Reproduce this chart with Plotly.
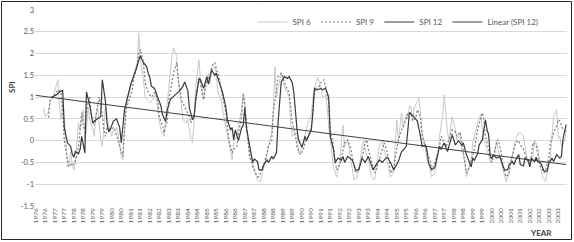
import plotly.graph_objects as go

# ---------------- data (month index 0 = Jan 1976) ----------------
YEARS = list(range(1976, 2004))
X_TICK_MONTHS = list(range(0, 336, 6))
X_TICK_LABELS = [str(y) for y in YEARS for _ in range(2)]
Y_TICKS = [-1.5, -1, -0.5, 0, 0.5, 1, 1.5, 2, 2.5, 3]
Y_TICK_LABELS = ["-1.5", "-1", "-0.5", "0", "0.5", "1", "1.5", "2", "2.5", "3"]

spi6_month = [5, 6, 8, 9, 11, 14, 15, 16, 17, 18, 19, 20, 21, 22, 23, 24, 25, 27, 28, 30,
              31, 32, 33, 34, 36, 37, 38, 39, 41, 42, 43, 44, 45, 46, 48, 49, 51, 52, 54, 55,
              56, 57, 59, 61, 62, 64, 65, 66, 68, 69, 72, 74, 76, 77, 79, 81, 82, 84, 86, 87,
              89, 90, 92, 93, 95, 96, 97, 98, 99, 100, 101, 103, 104, 105, 106, 107, 109, 110, 111, 113,
              114, 115, 117, 118, 120, 121, 123, 124, 125, 127, 128, 130, 131, 132, 133, 134, 135, 137, 138, 140,
              142, 143, 145, 146, 148, 149, 150, 151, 152, 153, 155, 157, 160, 161, 162, 164, 165, 166, 168, 169,
              171, 172, 174, 175, 177, 178, 180, 181, 183, 184, 185, 187, 188, 190, 192, 193, 194, 195, 197, 199,
              201, 203, 205, 207, 208, 210, 212, 214, 215, 217, 219, 220, 222, 224, 226, 227, 228, 229, 231, 232,
              234, 235, 236, 237, 238, 239, 241, 242, 243, 244, 246, 247, 249, 250, 252, 254, 255, 257, 258, 259,
              260, 261, 262, 263, 265, 266, 268, 269, 271, 272, 273, 275, 276, 278, 279, 281, 282, 283, 285, 287,
              288, 290, 291, 292, 294, 296, 297, 298, 300, 302, 303, 305, 306, 308, 309, 310, 312, 314, 315, 317,
              318, 320, 322, 323, 325, 326, 327, 329, 330, 331, 332, 334, 335]
spi6_value = [0.76, 0.55, 0.65, 0.90, 1.00, 1.40, 0.75, 0.48, 0.90, 0.55, 0.00, -0.60, -0.55, -0.25, -0.55, -0.67, -0.55, 0.41, 0.25, 0.71,
              0.00, 0.25, 0.78, 0.50, 0.25, 0.10, 0.60, 0.78, 0.02, -0.13, 0.30, 0.78, 0.55, 0.35, 0.10, 0.25, 0.30, 0.15, -0.36, -0.44,
              0.25, 0.78, 1.10, 1.40, 1.50, 1.79, 2.47, 1.90, 1.40, 1.00, 0.87, 0.95, 1.10, 0.70, 0.25, 0.10, 0.50, 1.24, 1.93, 2.13,
              1.93, 1.40, 0.78, 0.48, 0.40, 0.48, 0.25, 0.02, -0.05, 0.40, 1.24, 1.86, 1.40, 1.10, 0.94, 1.24, 1.55, 1.30, 1.60, 1.70,
              1.55, 1.10, 0.95, 0.71, 0.35, 0.10, -0.20, -0.44, 0.00, 0.10, 0.35, 0.71, 1.10, 0.94, 0.32, 0.02, -0.28, -0.50, -0.67, -0.90,
              -0.94, -0.75, -0.50, -0.30, 0.02, 0.20, 0.71, 1.70, 1.00, 1.20, 1.55, 1.24, 1.00, 0.41, 0.10, 0.20, 0.15, -0.28, -0.20, 0.00,
              0.30, 0.41, 0.60, 1.00, 1.33, 1.45, 1.24, 1.00, 1.05, 0.78, 0.32, -0.36, -0.60, -0.83, -0.50, 0.00, 0.35, -0.15, 0.02, -0.45,
              -0.90, -0.85, -0.40, 0.02, -0.20, -0.45, -0.83, -0.90, -0.60, -0.13, 0.02, -0.20, -0.50, -0.83, -0.75, 0.02, 0.48, 0.00, 0.64, 0.30,
              0.60, 0.50, 0.80, 0.78, 0.45, 0.75, 0.90, 0.98, 0.60, 0.20, -0.13, -0.40, -0.67, -0.83, -0.75, -0.36, 0.10, 0.60, 1.05, 0.60,
              0.20, 0.00, 0.25, 0.55, 0.25, 0.02, 0.15, -0.20, -0.50, -0.83, -0.70, -0.45, -0.05, 0.25, 0.41, 0.60, 0.30, 0.00, -0.20, -0.50,
              -0.45, -0.30, 0.02, -0.20, -0.50, -0.83, -0.94, -0.83, -0.50, -0.20, 0.02, 0.18, 0.18, 0.10, -0.13, -0.36, -0.60, -0.36, 0.02, -0.13,
              -0.50, -0.83, -0.94, -0.70, -0.40, 0.02, 0.55, 0.71, 0.05, 0.10, -0.13, 0.00, 0.25]

spi9_month = [8, 9, 10, 12, 14, 16, 17, 18, 20, 21, 23, 24, 26, 27, 29, 30, 31, 32, 34, 35,
              37, 38, 40, 42, 43, 44, 45, 47, 49, 50, 51, 53, 55, 56, 57, 59, 61, 62, 64, 65,
              66, 68, 69, 71, 73, 75, 77, 78, 80, 81, 83, 84, 86, 87, 89, 90, 92, 94, 95, 97,
              98, 100, 102, 103, 104, 106, 107, 109, 110, 111, 113, 115, 116, 118, 120, 121, 122, 124, 125, 127,
              128, 130, 131, 132, 134, 135, 137, 140, 141, 143, 144, 146, 147, 149, 150, 152, 153, 155, 156, 158,
              160, 161, 162, 164, 165, 167, 169, 170, 172, 174, 175, 176, 177, 178, 180, 182, 183, 185, 186, 188,
              189, 190, 192, 194, 195, 197, 199, 200, 202, 204, 206, 208, 209, 210, 212, 214, 215, 217, 220, 221,
              223, 224, 226, 227, 229, 231, 232, 234, 235, 237, 238, 240, 241, 243, 244, 246, 247, 249, 250, 251,
              253, 255, 256, 257, 259, 261, 263, 265, 266, 268, 269, 271, 272, 274, 276, 277, 279, 281, 282, 283,
              284, 286, 288, 289, 291, 292, 294, 295, 297, 299, 300, 302, 303, 305, 306, 308, 310, 311, 313, 314,
              316, 317, 319, 321, 322, 324, 325, 327, 329, 330, 331, 333, 335]
spi9_value = [0.53, 0.94, 1.00, 1.05, 1.17, 1.12, 0.64, 0.00, -0.44, -0.60, -0.52, -0.55, -0.35, -0.13, 0.64, 0.35, 0.25, 0.71, 1.00, 0.60,
              0.35, 0.55, 1.00, 0.60, 0.25, 0.10, 0.30, 0.25, 0.30, 0.25, 0.10, -0.13, -0.36, 0.25, 0.71, 0.94, 1.17, 1.47, 1.70, 2.00,
              2.10, 1.79, 1.33, 1.10, 1.00, 1.10, 0.95, 0.55, 0.35, 0.18, 0.45, 0.94, 1.33, 1.55, 1.79, 1.40, 0.94, 0.80, 0.70, 0.55,
              0.41, 0.60, 1.17, 1.47, 1.30, 0.94, 1.20, 1.47, 1.40, 1.70, 1.79, 1.55, 1.40, 1.00, 0.64, 0.32, 0.00, -0.28, -0.20, -0.15,
              0.18, 0.55, 1.05, 0.80, 0.02, -0.36, -0.60, -0.83, -0.83, -0.67, -0.55, -0.30, -0.10, 0.00, 0.64, 1.17, 1.47, 1.55, 1.47, 1.24,
              1.10, 0.78, 0.41, 0.10, -0.13, -0.32, -0.20, -0.05, 0.10, 0.30, 0.64, 1.10, 1.20, 1.17, 1.33, 1.40, 1.24, 0.87, 0.25, -0.13,
              -0.44, -0.67, -0.55, -0.20, -0.05, 0.02, -0.20, -0.40, -0.74, -0.67, -0.40, -0.05, 0.02, -0.20, -0.50, -0.74, -0.67, -0.40, -0.05, -0.13,
              -0.44, -0.74, -0.67, -0.40, 0.02, 0.25, 0.32, 0.50, 0.64, 0.64, 0.45, 0.53, 0.71, 0.55, 0.10, -0.13, -0.28, -0.44, -0.67, -0.60,
              -0.40, -0.13, 0.10, 0.02, -0.13, 0.02, 0.25, 0.20, 0.10, 0.20, 0.02, -0.50, -0.74, -0.60, -0.30, -0.20, 0.25, 0.48, 0.64, 0.48,
              0.10, -0.20, -0.50, -0.36, -0.05, 0.02, -0.28, -0.60, -0.83, -0.75, -0.50, -0.20, -0.05, 0.00, -0.10, -0.20, -0.40, -0.50, -0.36, -0.05,
              -0.10, -0.30, -0.60, -0.74, -0.67, -0.40, -0.05, 0.18, 0.35, 0.48, 0.45, 0.25, 0.20]

spi12_month = [10, 13, 15, 17, 18, 20, 22, 23, 24, 25, 27, 28, 29, 31, 32, 34, 36, 38, 41, 42,
               44, 45, 46, 47, 49, 51, 53, 54, 56, 58, 60, 63, 66, 68, 70, 71, 72, 73, 75, 77,
               79, 80, 82, 83, 85, 88, 91, 93, 94, 96, 97, 99, 100, 101, 103, 104, 106, 108, 109, 111,
               113, 114, 116, 118, 120, 121, 123, 124, 125, 126, 128, 130, 131, 132, 133, 135, 137, 138, 140, 141,
               143, 144, 146, 147, 149, 150, 152, 153, 154, 155, 157, 159, 160, 162, 163, 164, 165, 166, 168, 169,
               170, 171, 173, 174, 175, 176, 178, 180, 181, 183, 185, 186, 188, 189, 191, 193, 194, 195, 197, 200,
               202, 204, 206, 208, 210, 211, 213, 215, 217, 219, 221, 222, 224, 226, 227, 229, 231, 232, 234, 235,
               236, 238, 239, 241, 243, 244, 246, 247, 248, 250, 252, 253, 255, 256, 258, 260, 261, 263, 265, 267,
               269, 270, 272, 273, 275, 276, 277, 279, 280, 282, 283, 284, 285, 286, 287, 288, 289, 291, 293, 294,
               296, 298, 299, 301, 302, 303, 305, 306, 308, 309, 311, 312, 313, 315, 316, 317, 319, 321, 323, 324,
               326, 327, 329, 331, 332, 333, 335]
spi12_value = [1.00, 1.05, 1.12, 1.15, 0.30, -0.05, -0.13, -0.30, -0.38, -0.25, -0.30, -0.20, 0.10, -0.28, 1.12, 0.83, 0.40, 0.48, 0.55, 1.40,
               0.90, 0.40, 0.20, 0.25, 0.45, 0.50, 0.30, -0.05, 0.70, 0.98, 1.30, 1.60, 1.95, 1.79, 1.70, 1.55, 1.45, 1.25, 1.20, 1.00,
               0.80, 0.60, 0.44, 0.70, 0.95, 1.05, 1.15, 1.25, 1.35, 1.15, 0.75, 0.48, 0.55, 0.95, 1.40, 1.40, 1.20, 1.47, 1.30, 1.63,
               1.50, 1.55, 1.33, 1.10, 0.78, 0.48, 0.25, 0.30, 0.02, 0.25, 0.00, 0.30, 0.35, 0.76, 0.30, -0.13, -0.50, -0.42, -0.48, -0.67,
               -0.67, -0.55, -0.44, -0.50, -0.36, -0.42, -0.28, 0.40, 1.00, 1.35, 1.47, 1.43, 1.47, 1.33, 1.10, 0.64, 0.25, 0.02, -0.15, -0.05,
               0.10, 0.00, 0.18, 0.25, 0.64, 1.20, 1.17, 1.20, 1.17, 1.20, 1.00, 0.10, -0.20, -0.50, -0.40, -0.45, -0.36, -0.50, -0.36, -0.45,
               -0.67, -0.67, -0.40, -0.50, -0.36, -0.45, -0.67, -0.55, -0.44, -0.50, -0.40, -0.38, -0.50, -0.67, -0.60, -0.48, -0.25, -0.22, -0.13, 0.25,
               0.64, 0.58, 0.53, 0.45, 0.10, -0.13, -0.10, -0.20, -0.50, -0.67, -0.62, -0.45, -0.13, -0.20, -0.05, -0.25, -0.13, 0.14, -0.10, 0.00,
               -0.10, -0.05, -0.32, -0.40, -0.60, -0.40, -0.45, -0.30, -0.10, 0.02, 0.25, 0.48, 0.25, 0.14, -0.36, -0.40, -0.33, -0.40, -0.36, -0.45,
               -0.67, -0.67, -0.55, -0.48, -0.55, -0.45, -0.32, -0.55, -0.58, -0.40, -0.45, -0.60, -0.40, -0.48, -0.38, -0.48, -0.52, -0.70, -0.70, -0.52,
               -0.40, -0.48, -0.32, -0.40, -0.36, 0.05, 0.37]

# Linear trendline of SPI 12, end values
trend_month = [0, 335]
trend_value = [1.04, -0.55]

FONT = "Lato, 'Open Sans', sans-serif"
TXT = "#595959"

fig = go.Figure()
fig.add_trace(go.Scatter(x=spi6_month, y=spi6_value, mode="lines", name="SPI 6",
                         line=dict(color="#c8c8c8", width=1)))
fig.add_trace(go.Scatter(x=spi9_month, y=spi9_value, mode="lines", name="SPI 9",
                         line=dict(color="#7a7a7a", width=1.2, dash="2px,2px")))
fig.add_trace(go.Scatter(x=spi12_month, y=spi12_value, mode="lines", name="SPI 12",
                         line=dict(color="#3a3a3a", width=1.2)))
fig.add_trace(go.Scatter(x=trend_month, y=trend_value, mode="lines", name="Linear (SPI 12)",
                         line=dict(color="#404040", width=1)))

L, R, T, B = 35, 7, 10, 36
W, H = 574, 242
pw, ph = W - L - R, H - T - B

def px_x(p):
    return (p - L) / pw

def px_y(p):
    return (H - B - p) / ph

fig.update_layout(
    width=W, height=H,
    margin=dict(l=L, r=R, t=T, b=B, pad=0, autoexpand=False),
    paper_bgcolor="white", plot_bgcolor="white",
    font=dict(family=FONT, size=8, color=TXT),
    showlegend=True,
    legend=dict(orientation="h", x=px_x(398), xanchor="center", y=px_y(22), yanchor="middle",
                bgcolor="rgba(0,0,0,0)", font=dict(size=8, color=TXT),
                itemwidth=30, tracegroupgap=0),
    xaxis=dict(range=[-0.5, 335.5], tickmode="array", tickvals=X_TICK_MONTHS, ticktext=X_TICK_LABELS,
               tickangle=-90, tickfont=dict(size=6.5, color=TXT), showgrid=False, zeroline=False,
               showline=False, ticks="", automargin=False, ticklabelstandoff=0, fixedrange=True),
    yaxis=dict(range=[-1.5, 3], tickmode="array", tickvals=Y_TICKS, ticktext=Y_TICK_LABELS,
               tickfont=dict(size=7.5, color=TXT), showgrid=True, gridcolor="#d9d9d9", gridwidth=1,
               zeroline=False, showline=False, ticks="", automargin=False, fixedrange=True),
    annotations=[
        dict(text="<b>SPI</b>", x=px_x(12), y=px_y(87), xref="paper", yref="paper",
             xanchor="center", yanchor="middle",
             showarrow=False, textangle=-90, font=dict(size=8, color="#404040")),
        dict(text="<b>YEAR</b>", x=px_x(541), y=px_y(233), xref="paper", yref="paper",
             xanchor="center", yanchor="middle",
             showarrow=False, font=dict(size=8, color="#404040")),
    ],
    shapes=[
        dict(type="rect", xref="paper", yref="paper",
             x0=px_x(1.5), x1=px_x(571.5), y0=px_y(239.5), y1=px_y(1.5),
             line=dict(color="#262626", width=1), fillcolor="rgba(0,0,0,0)", layer="above"),
    ],
)

fig.write_html("out.html", config={"displayModeBar": False},
               post_script="document.body.style.margin='0';document.body.style.overflow='hidden';")
